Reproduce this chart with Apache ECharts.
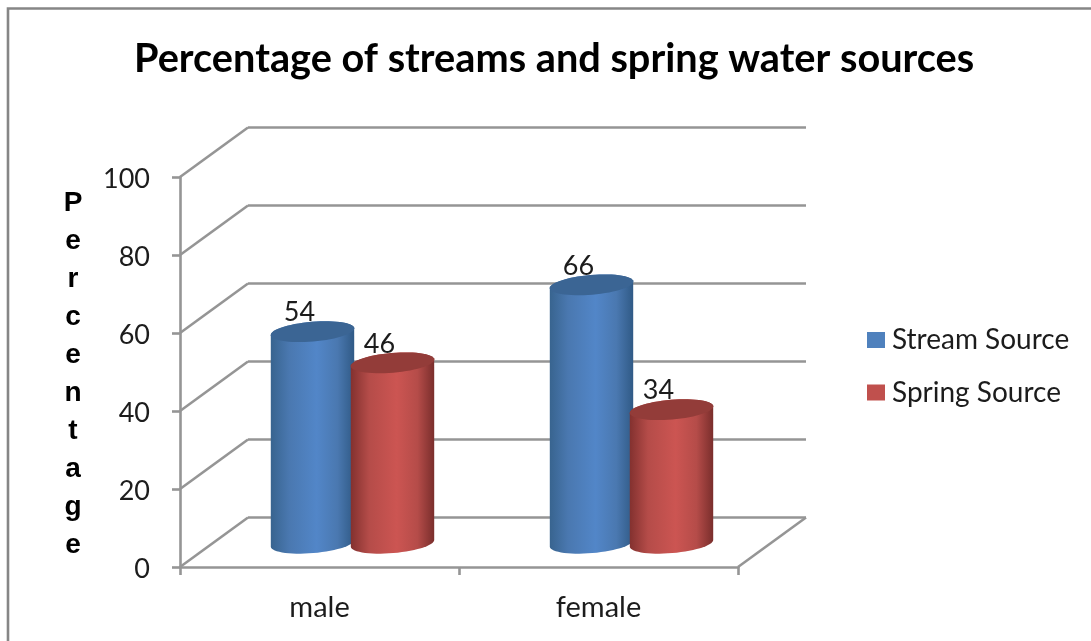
<!DOCTYPE html>
<html>
<head>
<meta charset="utf-8">
<style>
html,body{margin:0;padding:0;background:#fff;}
#chart{width:1091px;height:641px;}
</style>
<script src="https://cdn.jsdelivr.net/npm/echarts@6/dist/echarts.min.js"></script>
</head>
<body>
<div id="chart"></div>
<script>
const categories = ['male', 'female'];
const streamValues = [54, 66];
const springValues = [46, 34];
const wallLevels = [0, 20, 40, 60, 80, 100];
const axisTitle = 'Percentage';

// Pseudo-3D projection: how far the rear wall sits behind the front plane.
const DEPTH_X = 68, DEPTH_Y = 49.5;
const BAR_SHARE = 0.3;     // cylinder width as a share of the category band
const BAR_STEP = 40;       // distance of each cylinder's axis from the band centre
const TILT = -4.8 * Math.PI / 180;
const CAP_RATIO = 0.235;   // minor / major axis of the end ellipses
const GRID_COLOR = '#959595';
const TEXT_FONT = 'Lato';

function ellipseArc(cx, cy, a, b, from, to, steps) {
  const pts = [];
  for (let i = 0; i <= steps; i++) {
    const t = from + (to - from) * i / steps;
    pts.push([
      cx + a * Math.cos(t) * Math.cos(TILT) - b * Math.sin(t) * Math.sin(TILT),
      cy + a * Math.cos(t) * Math.sin(TILT) + b * Math.sin(t) * Math.cos(TILT)
    ]);
  }
  return pts;
}

function shade(edgeL, mid, edgeR) {
  return {
    type: 'linear', x: 0, y: 0, x2: 1, y2: 0,
    colorStops: [
      { offset: 0, color: edgeL },
      { offset: 0.22, color: mid[0] },
      { offset: 0.55, color: mid[1] },
      { offset: 0.8, color: mid[0] },
      { offset: 1, color: edgeR }
    ]
  };
}

// Draws one cylinder; slot is -1 for the left series in a band, +1 for the right.
function cylinderRenderer(slot, fill, capColor) {
  return function (params, api) {
    const idx = api.value(0), val = api.value(1);
    const band = api.size([1, 0])[0];
    const w = band * BAR_SHARE;
    const top = api.coord([idx, val]);
    const base = api.coord([idx, 0]);
    const cx = top[0] + DEPTH_X / 2 - 1 + slot * BAR_STEP;
    const topY = top[1] - DEPTH_Y / 2;
    const baseY = base[1] - DEPTH_Y / 2 + 1;
    const a = w / 2, b = a * CAP_RATIO;
    const body = ellipseArc(cx, baseY, a, b, Math.PI, 0, 30)
      .concat(ellipseArc(cx, topY, a, b, 0, -Math.PI, 30));
    return {
      type: 'group',
      children: [
        { type: 'polygon', shape: { points: body }, style: { fill: fill } },
        { type: 'polygon', shape: { points: ellipseArc(cx, topY, a, b, 0, 2 * Math.PI, 60) }, style: { fill: capColor } },
        {
          type: 'text', x: cx - 13, y: topY - 19,
          style: {
            text: String(val), align: 'center', verticalAlign: 'middle',
            font: '27px ' + TEXT_FONT, fill: '#1c1c1c'
          }
        }
      ]
    };
  };
}

// Rear wall lines, left wall diagonals and the right edge of the floor.
function wallRenderer(params, api) {
  const p = api.coord([0, api.value(1)]);
  const rect = params.coordSys;
  const x0 = rect.x, x1 = rect.x + rect.width, y = p[1];
  const style = { stroke: GRID_COLOR, lineWidth: 2.6, fill: 'none' };
  const children = [
    { type: 'line', shape: { x1: x0, y1: y, x2: x0 + DEPTH_X, y2: y - DEPTH_Y }, style },
    { type: 'line', shape: { x1: x0 + DEPTH_X, y1: y - DEPTH_Y, x2: x1 + DEPTH_X, y2: y - DEPTH_Y }, style }
  ];
  if (api.value(1) === 0) {
    children.push({ type: 'line', shape: { x1: x1, y1: y, x2: x1 + DEPTH_X, y2: y - DEPTH_Y }, style });
  }
  return { type: 'group', children };
}

const axisLineStyle = { color: GRID_COLOR, width: 2.6 };

const chart = echarts.init(document.getElementById('chart'), null, { renderer: 'canvas' });
chart.setOption({
  animation: false,
  backgroundColor: '#ffffff',
  title: {
    text: 'Percentage of streams and spring water sources',
    left: 134, top: 39, padding: 0,
    textStyle: { fontFamily: TEXT_FONT, fontSize: 39.7, fontWeight: 'bold', color: '#000000' }
  },
  graphic: [
    {
      type: 'rect', silent: true, z: -10,
      shape: { x: 8, y: 8.5, width: 1200, height: 800 },
      style: { fill: 'none', stroke: '#868686', lineWidth: 2.6 }
    },
    {
      // Axis title set as a column of stacked letters.
      type: 'text', silent: true, x: 73, y: 374.5,
      style: {
        text: axisTitle.split('').join('\n'),
        align: 'center', verticalAlign: 'middle',
        font: 'bold 28px "Liberation Sans"', lineHeight: 38, fill: '#000000'
      }
    }
  ],
  legend: {
    orient: 'vertical', left: 867, top: 326, padding: 0,
    itemWidth: 18, itemHeight: 16, itemGap: 24.5,
    icon: 'rect',
    data: ['Stream Source', 'Spring Source'],
    textStyle: { fontFamily: TEXT_FONT, fontSize: 28, color: '#1c1c1c', padding: [0, 0, 0, 2] }
  },
  grid: { left: 180, right: 353, top: 177, bottom: 74, containLabel: false },
  xAxis: {
    type: 'category', data: categories,
    axisLine: { show: true, lineStyle: axisLineStyle },
    axisTick: { show: true, length: 8, alignWithLabel: false, lineStyle: axisLineStyle },
    axisLabel: { margin: 26, fontFamily: TEXT_FONT, fontSize: 29, color: '#1c1c1c' },
    splitLine: { show: false }
  },
  yAxis: {
    type: 'value', min: 0, max: 100, interval: 20,
    axisLine: { show: true, lineStyle: axisLineStyle },
    axisTick: { show: true, length: 8, lineStyle: axisLineStyle },
    axisLabel: {
      margin: 30, color: '#1c1c1c',
      formatter: '{tick|{value}}',
      rich: { tick: { fontFamily: TEXT_FONT, fontSize: 27, color: '#1c1c1c', padding: [4, 0, 0, 0] } }
    },
    splitLine: { show: false }
  },
  series: [
    {
      type: 'custom', name: 'walls', z: 1, silent: true,
      renderItem: wallRenderer,
      encode: { x: 0, y: 1 },
      data: wallLevels.map(v => [0, v])
    },
    {
      type: 'custom', name: 'Stream Source', z: 3,
      itemStyle: { color: '#4f81bd' },
      renderItem: cylinderRenderer(-1, shade('#38648f', ['#4a78b0', '#5286c8'], '#305a86'), '#3b6594'),
      encode: { x: 0, y: 1 },
      data: streamValues.map((v, i) => [i, v])
    },
    {
      type: 'custom', name: 'Spring Source', z: 4,
      itemStyle: { color: '#c0504d' },
      renderItem: cylinderRenderer(1, shade('#83312f', ['#b54c49', '#cc5552'], '#7a2e2c'), '#933c39'),
      encode: { x: 0, y: 1 },
      data: springValues.map((v, i) => [i, v])
    }
  ]
});
</script>
</body>
</html>
